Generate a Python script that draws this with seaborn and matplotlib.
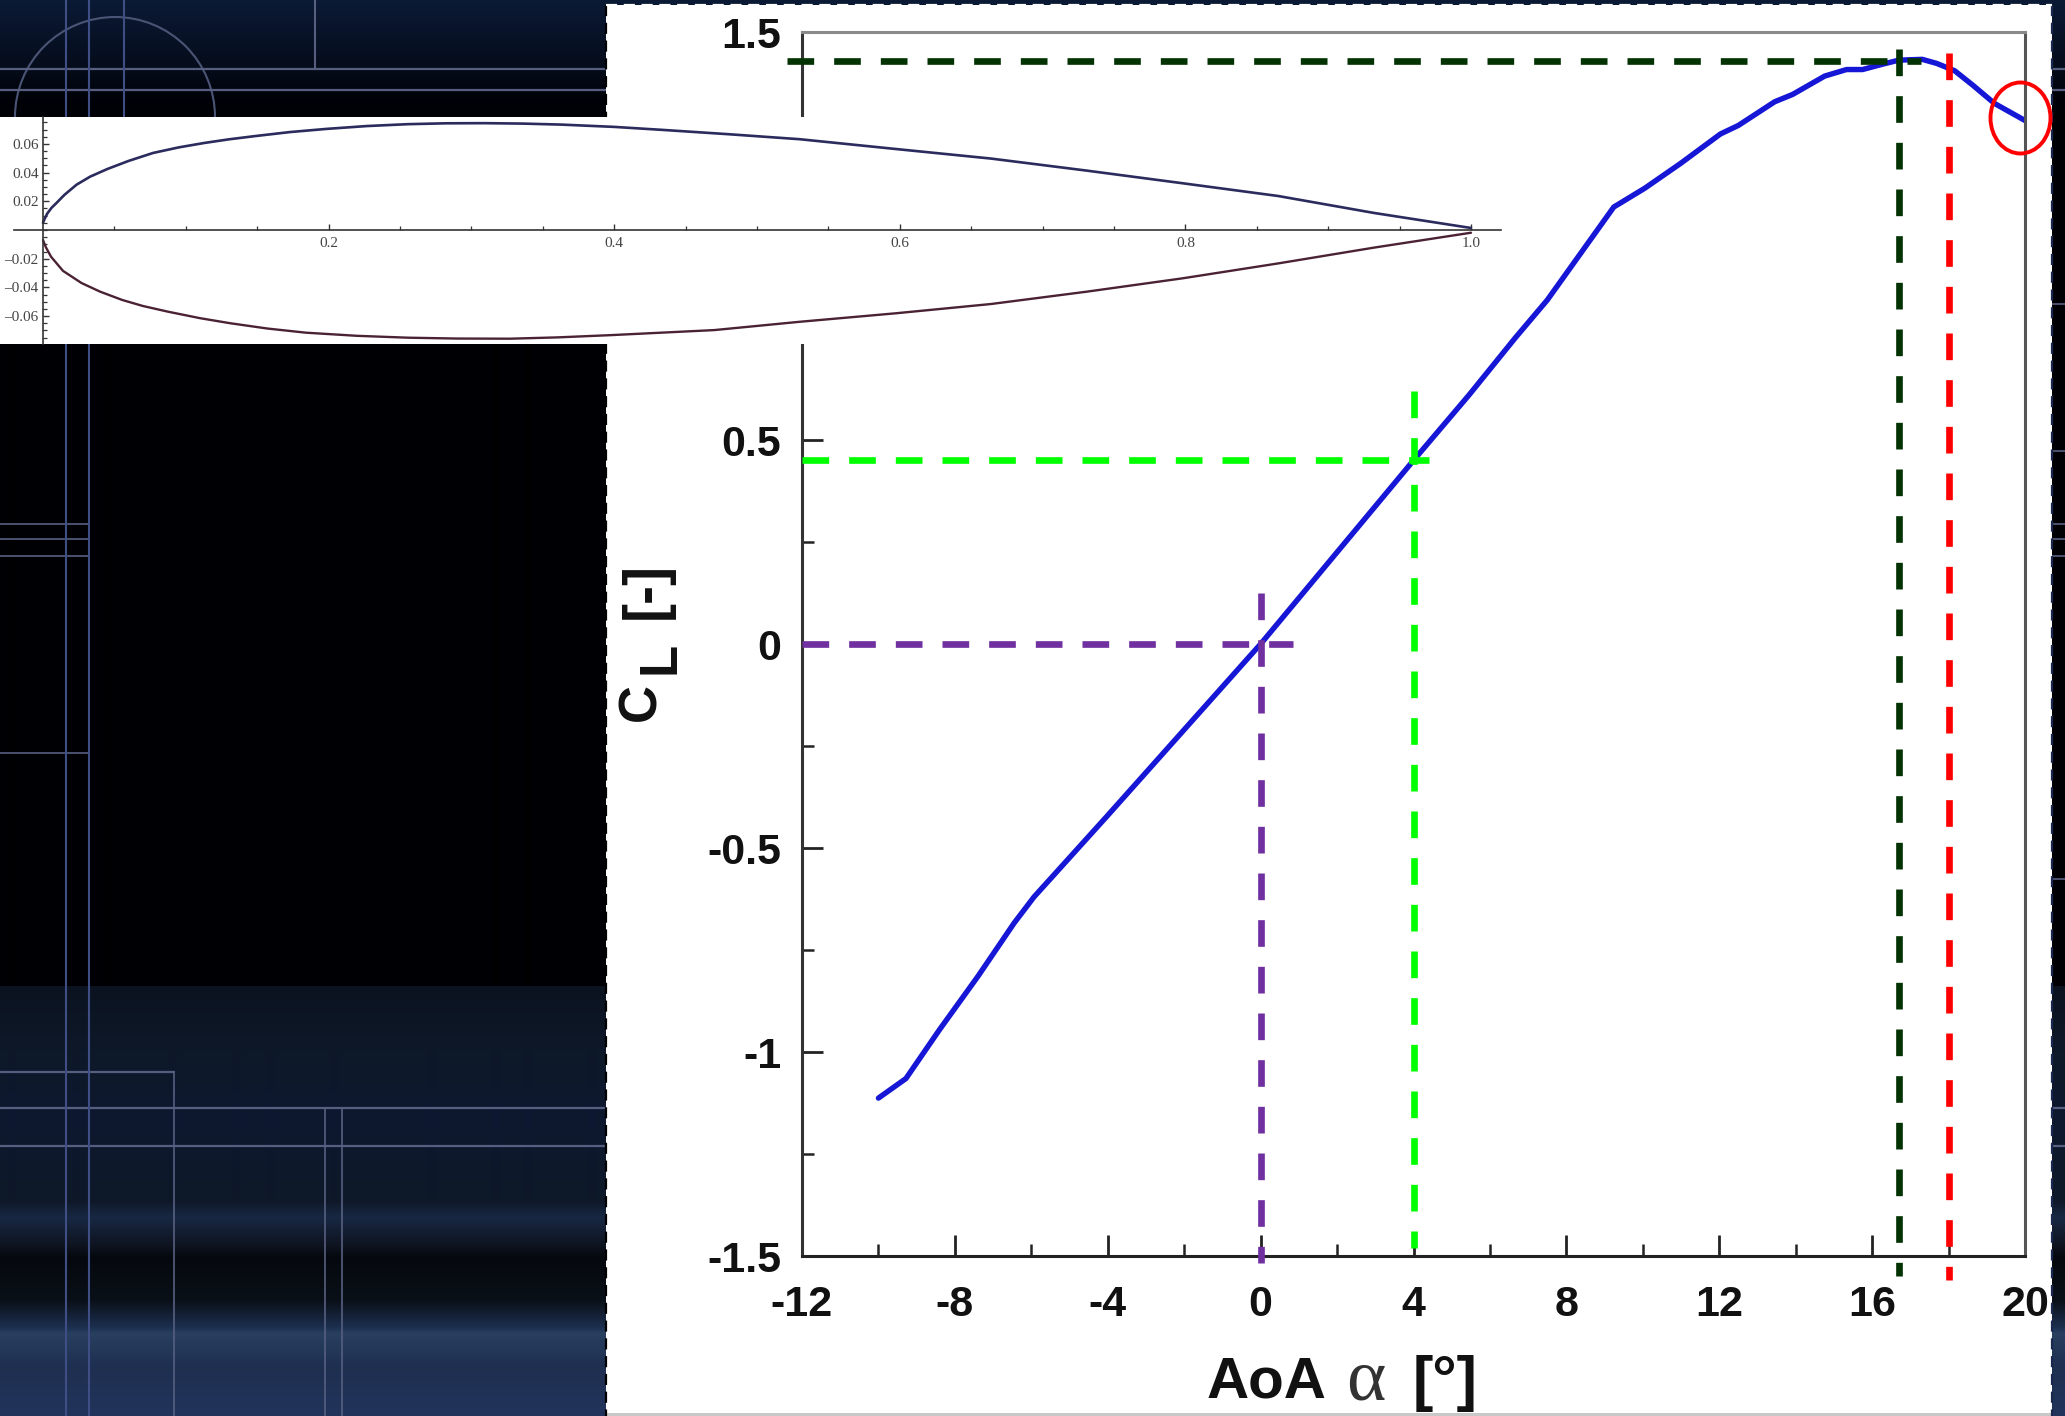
import matplotlib
matplotlib.use('Agg')
import matplotlib.pyplot as plt
from matplotlib.patches import Arc, Ellipse, Rectangle
import numpy as np
import seaborn as sns

W, H = 2065, 1416

# lift curve
aoa = [-10.0, -9.28, -8.4, -7.4, -6.45, -5.93, -4.0, -2.0, 0.0, 2.0, 4.0, 5.45, 6.66, 7.5, 9.24, 10.05,
       10.99, 12.03, 12.5, 13.45, 13.92, 14.76, 15.33, 15.75, 16.27, 16.7, 17.31, 17.69, 18.16, 18.63, 19.2, 20.04]
cl = [-1.113, -1.065, -0.945, -0.815, -0.684, -0.62, -0.42, -0.21, 0.0, 0.225, 0.45, 0.61, 0.75, 0.843, 1.071, 1.117,
      1.178, 1.25, 1.271, 1.329, 1.347, 1.392, 1.408, 1.408, 1.421, 1.431, 1.433, 1.423, 1.405, 1.37, 1.325, 1.281]

x_major = [-12, -8, -4, 0, 4, 8, 12, 16, 20]
x_minor = [-10, -6, -2, 2, 6, 10, 14, 18]
x_labels = ['-12', '-8', '-4', '0', '4', '8', '12', '16', '20']
y_major = [-1.5, -1.0, -0.5, 0.0, 0.5, 1.0, 1.5]
y_minor = [-1.25, -0.75, -0.25, 0.25, 0.75, 1.25]
y_labels = ['-1.5', '-1', '-0.5', '0', '0.5', '', '1.5']

# reference lines
refs_color = ['#7030a0', '#00ff00', '#033303']
refs_aoa = [0.0, 4.0, 16.7]
refs_cl = [0.0, 0.45, 1.43]
refs_h_start = [-12.0, -12.0, -12.4]
refs_h_end = [0.85, 4.4, 17.27]
refs_v_bottom = [-1.517, -1.48, -1.55]
refs_v_top = [0.125, 0.62, 1.458]
stall_aoa = 18.0
stall_span = [-1.56, 1.448]

# airfoil inset
up_x = [0.0, 0.001, 0.003, 0.006, 0.0092, 0.015, 0.0235, 0.033, 0.045, 0.06, 0.077, 0.095, 0.113, 0.13, 0.1486, 0.173,
        0.1985, 0.227, 0.2556, 0.282, 0.309, 0.336, 0.363, 0.40, 0.434, 0.48, 0.53,
        0.597, 0.664, 0.731, 0.798, 0.865, 0.932, 1.0]
up_y = [0.005, 0.0075, 0.0115, 0.0155, 0.0186, 0.0245, 0.0316, 0.0372, 0.0425, 0.0482, 0.0537, 0.0576, 0.0607, 0.0632,
        0.0655, 0.0683, 0.0705, 0.0725, 0.0738, 0.0744, 0.0745, 0.0742, 0.0735, 0.0719, 0.0698, 0.0668, 0.0633,
        0.0565, 0.0498, 0.0414, 0.0326, 0.0237, 0.0119, 0.0014]
lo_x = [0.0, 0.002, 0.0056, 0.014, 0.027, 0.04, 0.0555, 0.07, 0.0877, 0.11, 0.131, 0.157, 0.184, 0.22, 0.2556, 0.29,
        0.327, 0.36, 0.398, 0.47, 0.53, 0.597, 0.664, 0.731, 0.798, 0.865, 0.932, 1.0]
lo_y = [-0.007, -0.012, -0.0186, -0.0285, -0.037, -0.043, -0.0488, -0.053, -0.057, -0.0615, -0.065, -0.0687, -0.0716,
        -0.0738, -0.0751, -0.0757, -0.0758, -0.0749, -0.0733, -0.0698, -0.064, -0.0581, -0.0516, -0.043, -0.0337,
        -0.0233, -0.0123, -0.0019]
inset_x_labels = ['0.2', '0.4', '0.6', '0.8', '1.0']
inset_x_major = [0.2, 0.4, 0.6, 0.8, 1.0]
inset_y_major = [-0.06, -0.04, -0.02, 0.02, 0.04, 0.06]
inset_y_labels = ['\u20130.06', '\u20130.04', '\u20130.02', '0.02', '0.04', '0.06']

# slide backdrop, colour stops top to bottom
band_y = [0, 60, 100, 130, 985, 986, 1050, 1117, 1200, 1217, 1243, 1257, 1300, 1327, 1333, 1367, 1416]
band_rgb = ['#0b1a35', '#060e1e', '#010208', '#000004', '#000004', '#0b1320', '#0e1828', '#0d1830', '#0e1828',
            '#182843', '#0f1522', '#05090e', '#0a1018', '#1c3050', '#29405f', '#1e2f50', '#22345c']

sns.set_style('white')
plt.rcParams['font.family'] = ['Liberation Sans', 'DejaVu Sans']


def px_axes(fig, left, top, right, bottom, **kw):
    return fig.add_axes([left / W, 1 - bottom / H, (right - left) / W, (bottom - top) / H], **kw)


def draw_backdrop(fig):
    bg = fig.add_axes([0, 0, 1, 1], zorder=0)
    bg.set_xlim(0, W)
    bg.set_ylim(H, 0)
    bg.axis('off')
    rgb = np.array([matplotlib.colors.to_rgb(c) for c in band_rgb])
    rows = np.arange(H)
    img = np.stack([np.interp(rows, band_y, rgb[:, i]) for i in range(3)], axis=1)[:, None, :]
    bg.imshow(img, extent=(0, W, H, 0), aspect='auto', interpolation='bilinear')

    line_col = '#565f80'
    blue_col = '#3f4e85'
    bg.hlines([69, 90, 1108, 1146], 0, W, color=line_col, lw=1.6)
    bg.hlines([524, 539, 556, 753], 0, 90, color=line_col, lw=1.2)
    bg.hlines([524, 539, 556, 451, 879, 304], 2052, W, color=line_col, lw=1.2)
    bg.hlines(1072, 0, 175, color=line_col, lw=1.6)
    bg.vlines([66, 89], 0, H, color=blue_col, lw=1.5)
    bg.vlines(124, 0, 117, color=blue_col, lw=1.5)
    bg.vlines(315, 0, 69, color=line_col, lw=1.5)
    bg.vlines(174, 1072, H, color=line_col, lw=1.2)
    bg.vlines([324.5, 341.5], 1108, H, color=line_col, lw=1.2)
    bg.add_patch(Arc((115, 117), 200, 200, theta1=180, theta2=360, color='#4a5475', lw=1.5))

    bg.add_patch(Rectangle((606, 5), 2052 - 606, 1408, facecolor='white', edgecolor='none', zorder=3))
    bg.add_patch(Rectangle((606, 1413), 2052 - 606, 3, facecolor='#c8c8c8', edgecolor='none', zorder=3))
    dash = dict(lw=1.6, linestyle=(0, (5, 3)), zorder=4)
    bg.plot([606, 606], [5, H], color='black', **dash)
    bg.plot([2052, 2052], [5, H], color='#1a2850', **dash)
    bg.plot([606, 2052], [5, 5], color='white', **dash)
    return bg


def draw_main(fig):
    ax = px_axes(fig, 802, 32, 2025, 1256, zorder=1)
    ax.patch.set_alpha(0)
    sns.lineplot(x=aoa, y=cl, color='#1616d6', lw=3.9, sort=False, errorbar=None, ax=ax, zorder=2)

    ref_style = dict(lw=4.8, dashes=(4, 3), clip_on=False, zorder=3)
    for color, a, c, x0, x1, y0, y1 in zip(refs_color, refs_aoa, refs_cl, refs_h_start, refs_h_end,
                                           refs_v_bottom, refs_v_top):
        ax.plot([x0, x1], [c, c], color=color, **ref_style)
        ax.plot([a, a], [y1, y0], color=color, **ref_style)
    ax.plot([stall_aoa, stall_aoa], [stall_span[1], stall_span[0]], color='#ff0000', **ref_style)

    ax.set_xlim(-12, 20)
    ax.set_ylim(-1.5, 1.5)
    ax.set_xticks(x_major, labels=x_labels)
    ax.set_xticks(x_minor, minor=True)
    ax.set_yticks(y_major, labels=y_labels)
    ax.set_yticks(y_minor, minor=True)
    ax.tick_params(which='major', direction='in', length=15, width=2.0, color='#222222', bottom=True, left=True)
    ax.tick_params(which='minor', direction='in', length=8.5, width=1.8, color='#222222', bottom=True, left=True)
    ax.tick_params(axis='x', which='major', pad=21)
    ax.tick_params(axis='y', which='major', pad=15)
    for lab in ax.get_xticklabels() + ax.get_yticklabels():
        lab.set_fontsize(31)
        lab.set_fontweight('bold')
        lab.set_color('#111111')
    for side, col in zip(['left', 'bottom', 'right', 'top'], ['#333333', '#222222', '#555555', '#8a8a8a']):
        ax.spines[side].set_visible(True)
        ax.spines[side].set_color(col)
        ax.spines[side].set_linewidth(2.2)
    return ax


def draw_inset(fig):
    ax = px_axes(fig, 0, 117, 1501, 344, zorder=5)
    ax.set_facecolor('white')
    sns.lineplot(x=up_x, y=up_y, color='#2b2b5e', lw=1.9, sort=False, errorbar=None, ax=ax)
    sns.lineplot(x=lo_x, y=lo_y, color='#4a2234', lw=1.7, sort=False, errorbar=None, ax=ax)
    ax.set_xlim(-43 / 1428, 1458 / 1428)
    ax.set_ylim(-0.0795, 0.0788)
    for side in ['top', 'right']:
        ax.spines[side].set_visible(False)
    for side in ['left', 'bottom']:
        ax.spines[side].set_position('zero')
        ax.spines[side].set_color('#333333')
        ax.spines[side].set_linewidth(1.2)
    ax.spines['bottom'].set_bounds(-0.0203, 1458 / 1428)
    ax.set_xticks(inset_x_major, labels=inset_x_labels)
    ax.set_xticks([0.05, 0.1, 0.15, 0.25, 0.3, 0.35, 0.45, 0.5, 0.55, 0.65, 0.7, 0.75, 0.85, 0.9, 0.95], minor=True)
    ax.set_yticks(inset_y_major, labels=inset_y_labels)
    ax.set_yticks(np.arange(-15, 16) * 0.005, minor=True)
    ax.set_ylim(-0.0795, 0.0788)
    ax.tick_params(which='major', direction='in', length=4.5, width=1.0, color='#333333', bottom=True, left=True)
    ax.tick_params(which='minor', direction='in', length=2.8, width=0.9, color='#333333', bottom=True, left=True)
    ax.tick_params(axis='x', pad=5)
    ax.tick_params(axis='y', pad=3)
    for lab in ax.get_xticklabels() + ax.get_yticklabels():
        lab.set_fontfamily('Liberation Serif')
        lab.set_fontsize(11)
        lab.set_color('#444444')
    return ax


def draw_labels(fig):
    top = fig.add_axes([0, 0, 1, 1], zorder=6)
    top.set_xlim(0, W)
    top.set_ylim(H, 0)
    top.axis('off')
    top.add_patch(Ellipse((2020.5, 118), 60, 71, facecolor='none', edgecolor='#ff0000', lw=2.8))

    txt = dict(color='#111111', fontweight='bold')
    top.text(1207, 1397, 'AoA', fontsize=42, ha='left', va='baseline', **txt)
    top.text(1346, 1400, '\u03b1', fontsize=54, ha='left', va='baseline', color='#333333',
             family='Liberation Serif')
    top.text(1413, 1399, '[\u00b0]', fontsize=44, ha='left', va='baseline', **txt)
    top.text(641, 702, 'C', fontsize=38, rotation=90, ha='center', va='center', **txt)
    top.text(661, 658, 'L', fontsize=38, rotation=90, ha='center', va='center', **txt)
    top.text(647, 590, '[-]', fontsize=41, rotation=90, ha='center', va='center', **txt)


if __name__ == '__main__':
    fig = plt.figure(figsize=(W / 100, H / 100), dpi=100)
    draw_backdrop(fig)
    draw_main(fig)
    draw_inset(fig)
    draw_labels(fig)
    fig.savefig('out.png', dpi=100)
